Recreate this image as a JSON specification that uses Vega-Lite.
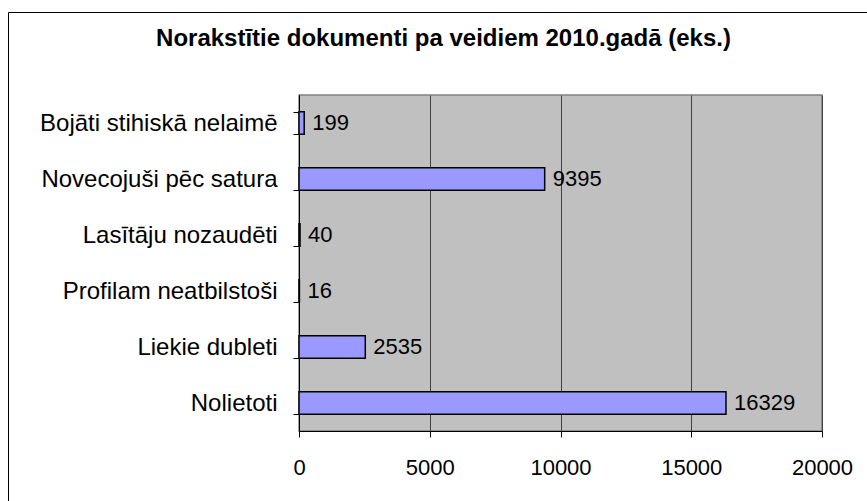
{
  "$schema": "https://vega.github.io/schema/vega-lite/v6.json",
  "width": 523,
  "height": 336,
  "autosize": {"type": "none"},
  "padding": {"left": 299, "top": 95, "right": 45, "bottom": 70},
  "background": "white",
  "title": {
    "text": "Norakstītie dokumenti pa veidiem 2010.gadā (eks.)",
    "font": "Liberation Sans",
    "fontSize": 24,
    "fontWeight": "bold",
    "color": "black",
    "anchor": "middle",
    "frame": "group",
    "dx": -117,
    "baseline": "alphabetic",
    "offset": -58
  },
  "data": {
    "values": [
      {"veids": "Bojāti stihiskā nelaimē", "skaits": 199},
      {"veids": "Novecojuši pēc satura", "skaits": 9395},
      {"veids": "Lasītāju nozaudēti", "skaits": 40},
      {"veids": "Profilam neatbilstoši", "skaits": 16},
      {"veids": "Liekie dubleti", "skaits": 2535},
      {"veids": "Nolietoti", "skaits": 16329}
    ]
  },
  "encoding": {
    "y": {
      "field": "veids",
      "type": "nominal",
      "sort": null,
      "scale": {"paddingInner": 0.6, "paddingOuter": 0.3},
      "axis": {
        "title": null,
        "tickBand": "extent",
        "tickSize": 6,
        "tickColor": "black",
        "domainColor": "black",
        "labelPadding": 16,
        "labelFont": "Liberation Sans",
        "labelFontSize": 24,
        "labelColor": "black",
        "labelLimit": 400,
        "grid": false
      }
    },
    "x": {
      "field": "skaits",
      "type": "quantitative",
      "scale": {"domain": [0, 20000], "nice": false},
      "axis": {
        "title": null,
        "values": [0, 5000, 10000, 15000, 20000],
        "format": "d",
        "tickSize": 6,
        "tickColor": "black",
        "domainColor": "black",
        "labelPadding": 20,
        "labelFont": "Liberation Sans",
        "labelFontSize": 22,
        "labelColor": "black",
        "labelFlush": false,
        "grid": true,
        "gridColor": "#404040",
        "gridOpacity": 1
      }
    }
  },
  "layer": [
    {
      "mark": {"type": "bar", "stroke": "black", "strokeWidth": 1.5},
      "encoding": {
        "color": {
          "datum": "rāmis",
          "scale": {"range": ["#9999FF"]},
          "legend": {
            "orient": "none",
            "legendX": -291,
            "legendY": -83,
            "padding": 430,
            "strokeColor": "black",
            "fillColor": null,
            "cornerRadius": 0,
            "title": null,
            "symbolOpacity": 0,
            "symbolSize": 1,
            "labelOpacity": 0,
            "labelFontSize": 1,
            "encode": {"legend": {"enter": {"strokeWidth": {"value": 2}}, "update": {"strokeWidth": {"value": 2}}}}
          }
        }
      }
    },
    {
      "mark": {
        "type": "text",
        "align": "left",
        "baseline": "middle",
        "dx": 8,
        "font": "Liberation Sans",
        "fontSize": 22,
        "color": "black"
      },
      "encoding": {"text": {"field": "skaits", "type": "quantitative", "format": "d"}}
    }
  ],
  "config": {
    "view": {"fill": "#C0C0C0", "stroke": "#808080", "strokeWidth": 1.5},
    "axis": {"domainWidth": 1, "tickWidth": 1, "gridWidth": 1}
  }
}
